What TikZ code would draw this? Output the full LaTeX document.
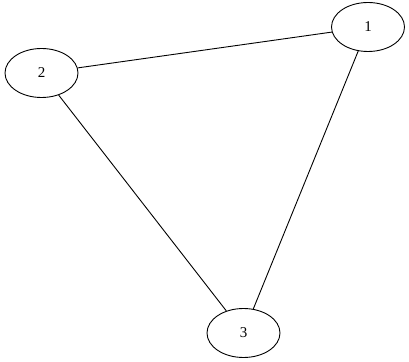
\documentclass[tikz,border=0pt]{standalone}
\usepackage{fontspec}
\setmainfont{Liberation Serif}
\usetikzlibrary{shapes.geometric}
\begin{document}
\begin{tikzpicture}[x=1pt,y=1pt,
  vertex/.style={draw, ellipse, minimum width=73pt, minimum height=49pt, inner sep=0pt, line width=0.9pt, font=\fontsize{15}{18}\selectfont},
  link/.style={line width=0.9pt}]
  \useasboundingbox (0,0) rectangle (409,361);
  \node[vertex] (n1) at (368,334) {1};
  \node[vertex] (n2) at (41.5,288) {2};
  \node[vertex] (n3) at (243.5,28) {3};
  \draw[link] (n2) -- (n1);
  \draw[link] (n1) -- (n3);
  \draw[link] (n2) -- (n3);
\end{tikzpicture}
\end{document}
